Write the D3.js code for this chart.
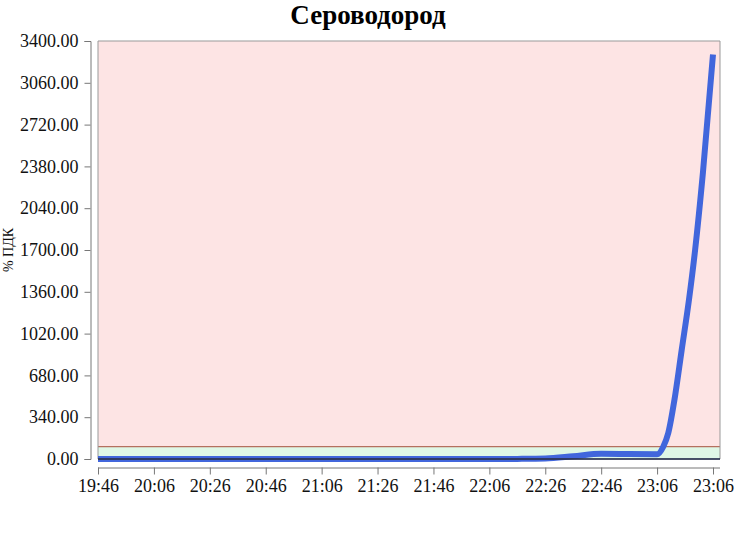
<!DOCTYPE html>
<html><head><meta charset="utf-8">
<script src="https://cdn.jsdelivr.net/npm/d3@7"></script>
<style>
html,body{margin:0;padding:0;background:#fff;}
svg{display:block;}
</style>
</head><body>
<svg id="chart" width="746" height="559"></svg>
<script>
const title = "Сероводород";
const yLabel = "% ПДК";
const tickLabels = ["19:46","20:06","20:26","20:46","21:06","21:26","21:46","22:06","22:26","22:46","23:06","23:06"];
const yTicks = [0,340,680,1020,1360,1700,2040,2380,2720,3060,3400];
const threshold = 100;
// positions along the time axis (in tick units) and values
const seriesX = [0,1,2,3,4,5,6,7,7.5,8,8.5,9,9.5,10,10.11,10.2,10.31,10.44,10.57,10.68,10.82,11];
const seriesY = [0,0,0,0,0,0,0,0,1,4,22,42,40,38,100,211,480,887,1294,1700,2330,3290];

const svg = d3.select("#chart");
const pL = 98, pR = 720, pT = 41, pB = 459;
const x = d3.scaleLinear().domain([0, 11]).range([98, 713]);
const y = d3.scaleLinear().domain([0, 3400]).range([pB, pT]);

// background zones
svg.append("rect").attr("x", pL).attr("y", y(3400)).attr("width", pR-pL)
  .attr("height", y(threshold)-y(3400)).attr("fill", "#fde4e4");
svg.append("rect").attr("x", pL).attr("y", y(threshold)).attr("width", pR-pL)
  .attr("height", y(0)-y(threshold)).attr("fill", "#dff7e6");
svg.append("line").attr("x1", pL).attr("x2", pR).attr("y1", y(threshold)).attr("y2", y(threshold))
  .attr("stroke", "#b5705f").attr("stroke-width", 1.3);
// border
svg.append("path").attr("d", `M${pL},${pB}V${pT}H${pR}V${pB}`)
  .attr("fill","none").attr("stroke","#999").attr("stroke-width",1);

// series line
const pts = seriesX.map((v,i)=>[v, seriesY[i]]);
const line = d3.line().x(d=>x(d[0])).y(d=>y(d[1])).curve(d3.curveMonotoneX);
svg.append("path").datum(pts).attr("d", line).attr("fill","none")
  .attr("stroke","#4166dc").attr("stroke-width",6).attr("stroke-linecap","butt").attr("stroke-linejoin","round");
svg.append("line").attr("x1", pL).attr("x2", pR).attr("y1", pB).attr("y2", pB)
  .attr("stroke","#2b3350").attr("stroke-width",1.8).attr("opacity",0.85);

// y axis
const yAxis = d3.axisLeft(y).tickValues(yTicks).tickFormat(d3.format(".2f")).tickSize(6).tickPadding(6);
const gy = svg.append("g").attr("transform","translate(90.5,0)").call(yAxis);
gy.selectAll("path,line").attr("stroke","#777");
gy.selectAll("text").attr("font-family","'Liberation Serif', serif").attr("font-size",18).attr("fill","#111");

// x axis
const xAxis = d3.axisBottom(x).tickValues(d3.range(tickLabels.length)).tickFormat(i=>tickLabels[i]).tickSize(7).tickSizeOuter(0).tickPadding(5);
const gx = svg.append("g").attr("transform","translate(0,467.5)").call(xAxis);
gx.select(".domain").attr("d", `M${pL},0.5H${pR}`);
gx.selectAll("path,line").attr("stroke","#777");
gx.selectAll("text").attr("font-family","'Liberation Serif', serif").attr("font-size",18).attr("fill","#111");

// title
svg.append("text").attr("x", 368).attr("y", 24).attr("text-anchor","middle")
  .attr("font-family","'Liberation Serif', serif").attr("font-weight","bold").attr("font-size",27)
  .attr("fill","#000").text(title);
// y label
svg.append("text").attr("transform","translate(13,250) rotate(-90)").attr("text-anchor","middle")
  .attr("font-family","'Liberation Serif', serif").attr("font-size",14).attr("fill","#111").text(yLabel);
</script>
</body></html>
